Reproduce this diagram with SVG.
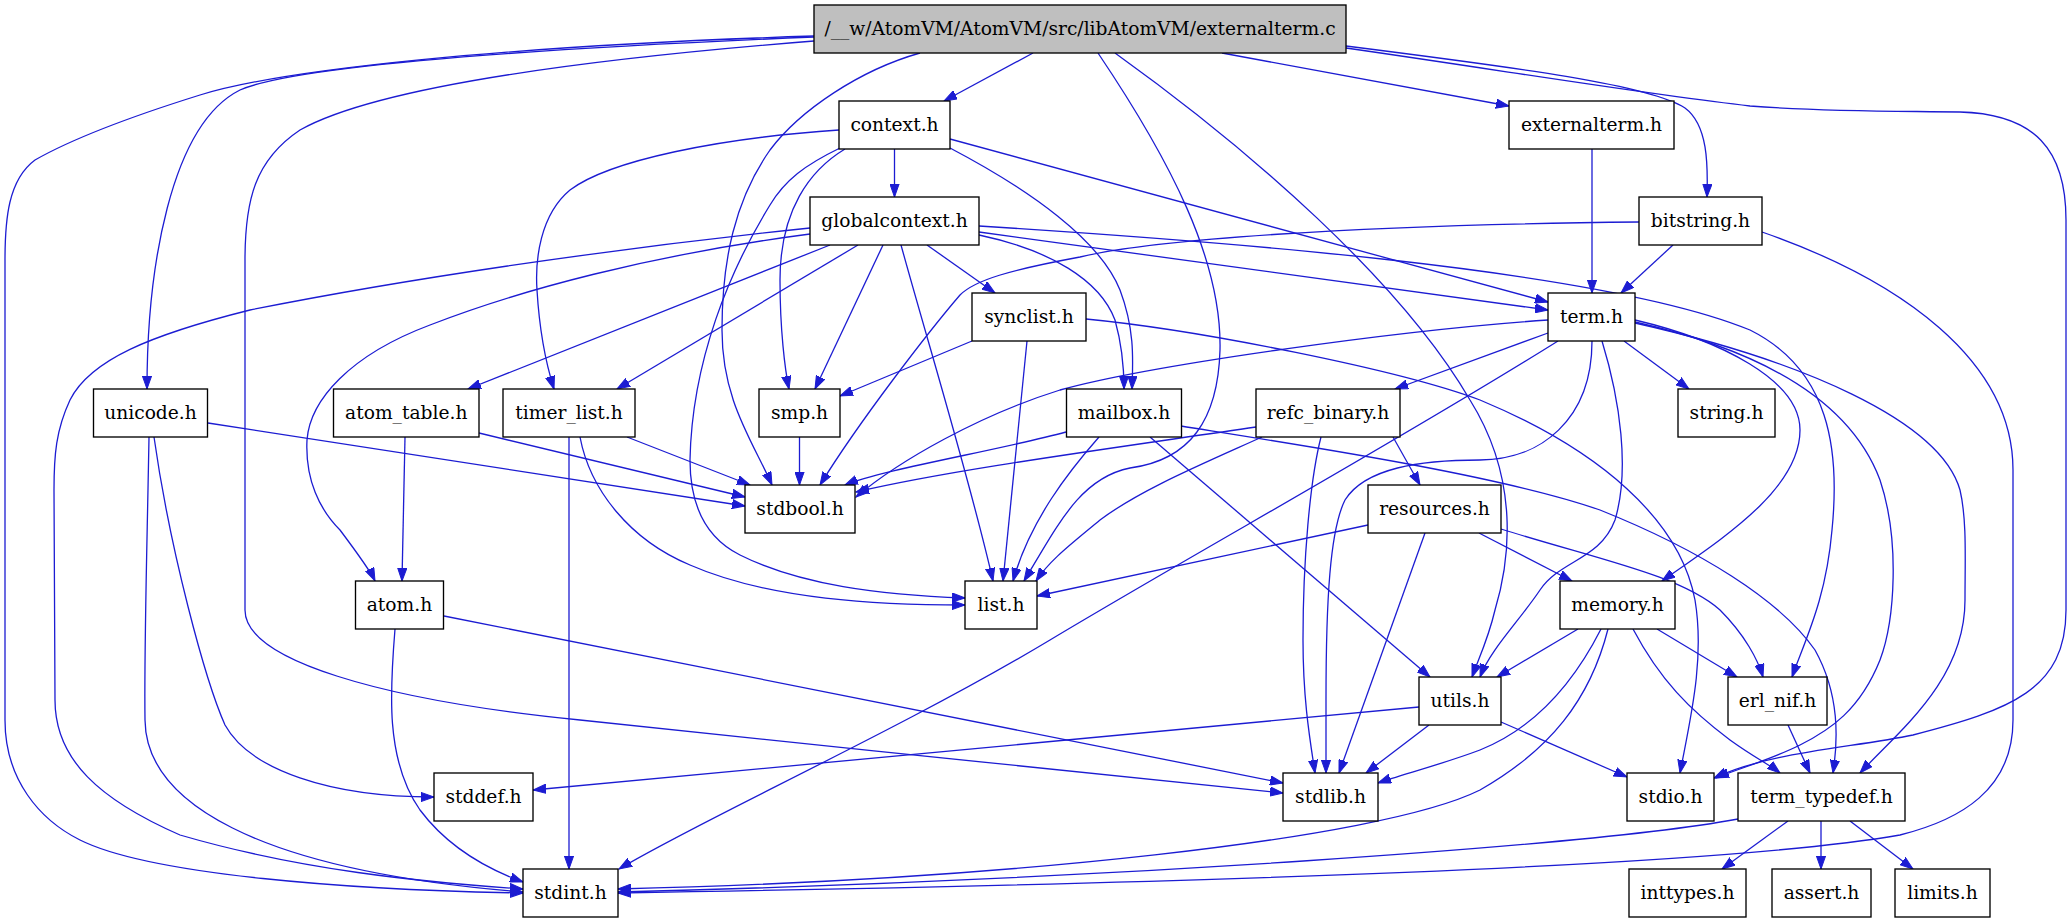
<svg xmlns="http://www.w3.org/2000/svg" width="2072" height="923" viewBox="0 0 2072 923">
<style>
.e{fill:none;stroke:#1c1cd2;stroke-width:1.3;marker-end:url(#ah)}
.n rect{fill:#fff;stroke:#000;stroke-width:1.35}
.r rect{fill:#bfbfbf}
text{font-family:"DejaVu Serif","Liberation Serif",serif;font-size:18.67px;text-anchor:middle;fill:#000}
</style>
<defs>
<marker id="ah" markerWidth="14" markerHeight="10" refX="13" refY="5" orient="auto" markerUnits="userSpaceOnUse">
<path d="M0,0.4 L13,5 L0,9.6 z" fill="#1c1cd2" stroke="#1c1cd2" stroke-width="1"/>
</marker>
</defs>
<rect x="0" y="0" width="2072" height="923" fill="#fff"/>
<g id="edges">
<path class="e" d="M1033,53 L944,101"/>
<path class="e" d="M1222,53 L1509,106"/>
<path class="e" d="M1346,46 C1520,68 1650,85 1685,108 C1708,125 1708,165 1707,197"/>
<path class="e" d="M1346,48 C1500,70 1650,95 1750,106 C1830,112 1900,111 1960,112 C2035,114 2066,150 2066,220 L2066,610 C2066,690 2010,710 1913,735 C1850,748 1770,752 1714,778"/>
<path class="e" d="M1115,53 C1250,150 1400,280 1470,400 C1520,480 1510,560 1495,610 C1488,640 1478,660 1472,677"/>
<path class="e" d="M1098,53 C1170,160 1222,260 1220,350 C1218,420 1190,460 1130,468 C1080,478 1058,525 1024,581"/>
<path class="e" d="M920,53 C860,70 800,110 770,150 C735,200 722,260 722,330 C722,400 752,440 772,485"/>
<path class="e" d="M814,37 C500,50 290,68 240,90 C170,125 147,270 147,389"/>
<path class="e" d="M814,36 C500,46 280,70 200,95 C120,120 70,140 35,160 C8,180 5,220 5,260 L5,720 C5,780 40,820 80,840 C150,875 350,890 523,893"/>
<path class="e" d="M814,41 C600,58 380,85 300,130 C255,160 245,200 245,260 L245,610 C245,660 380,700 580,720 C800,745 1100,772 1283,793"/>
<path class="e" d="M894.5,149 L894.5,197"/>
<path class="e" d="M839,130 C720,138 610,160 570,190 C540,215 535,260 537,290 C540,340 548,370 554,389"/>
<path class="e" d="M840,148 C805,165 785,180 770,205 C730,270 692,360 690,460 C690,510 710,540 740,555 C800,585 880,595 965,598"/>
<path class="e" d="M845,149 C810,170 780,210 780,280 C780,330 785,370 789,389"/>
<path class="e" d="M950,139 L1548,302"/>
<path class="e" d="M950,148 C1030,190 1100,240 1120,290 C1135,330 1133,360 1132,389"/>
<path class="e" d="M810,228 C600,250 400,280 250,310 C150,335 90,360 70,400 C56,430 54,455 54,490 L55,700 C55,760 100,800 180,835 C300,870 420,882 523,889"/>
<path class="e" d="M810,234 C650,255 520,290 430,325 C350,355 310,400 307,440 C305,480 320,510 340,530 C355,550 370,570 375,581"/>
<path class="e" d="M830,245 L468,389"/>
<path class="e" d="M858,245 L617,389"/>
<path class="e" d="M883,245 L815,389"/>
<path class="e" d="M901,245 C930,350 970,480 993,581"/>
<path class="e" d="M927,245 L995,293"/>
<path class="e" d="M979,232 L1548,310"/>
<path class="e" d="M979,235 C1050,250 1100,280 1115,320 C1122,345 1124,365 1124,389"/>
<path class="e" d="M979,226 C1200,240 1600,268 1750,330 C1830,370 1840,450 1832,530 C1826,600 1805,640 1792,677"/>
<path class="e" d="M1592,149 L1592,293"/>
<path class="e" d="M1673,245 L1621,293"/>
<path class="e" d="M1639,222 C1350,225 1150,240 1080,257 C1010,270 975,280 960,295 C930,330 860,420 820,485"/>
<path class="e" d="M1762,232 C1900,280 2013,360 2013,470 L2013,720 C2013,790 1960,820 1900,835 C1700,870 1100,885 618,893"/>
<path class="e" d="M972,341 L840,396"/>
<path class="e" d="M1027,341 L1003,581"/>
<path class="e" d="M1086,319 C1200,330 1400,370 1480,400 C1600,450 1680,520 1695,600 C1705,660 1690,720 1680,773"/>
<path class="e" d="M1548,320 C1400,330 1150,365 1060,390 C980,415 900,460 856,497"/>
<path class="e" d="M1548,333 L1395,389"/>
<path class="e" d="M1558,341 C1400,440 1200,550 1050,640 C900,730 700,820 619,869"/>
<path class="e" d="M1592,341 C1592,420 1540,460 1480,460 C1420,460 1365,468 1345,500 C1330,530 1326,600 1326,700 L1326,773"/>
<path class="e" d="M1602,341 C1620,400 1630,470 1615,520 C1600,560 1560,560 1540,590 C1520,620 1490,650 1480,677"/>
<path class="e" d="M1624,341 L1689,389"/>
<path class="e" d="M1635,320 C1720,340 1800,380 1800,430 C1800,490 1720,540 1662,581"/>
<path class="e" d="M1635,322 C1760,350 1850,400 1880,480 C1900,540 1895,620 1880,660 C1860,710 1830,730 1800,745 C1770,760 1740,768 1716,778"/>
<path class="e" d="M1635,323 C1800,360 1940,420 1960,490 C1967,520 1965,560 1965,600 C1965,680 1900,730 1860,773"/>
<path class="e" d="M208,423 L745,506"/>
<path class="e" d="M154,437 C170,550 205,680 225,725 C250,770 330,797 434,797"/>
<path class="e" d="M149,437 C147,550 144,650 145,720 C146,800 250,870 523,892"/>
<path class="e" d="M479,433 L745,497"/>
<path class="e" d="M405,437 L402,581"/>
<path class="e" d="M627,437 L750,485"/>
<path class="e" d="M569,437 L569,869"/>
<path class="e" d="M580,437 C590,490 630,540 690,565 C770,600 880,605 965,605"/>
<path class="e" d="M799.5,437 L799.5,485"/>
<path class="e" d="M1066,432 C1000,450 880,470 845,485"/>
<path class="e" d="M1099,437 C1070,470 1030,520 1013,581"/>
<path class="e" d="M1150,437 L1430,677"/>
<path class="e" d="M1181,426 C1300,445 1500,475 1600,510 C1700,550 1780,600 1815,650 C1840,695 1838,740 1833,773"/>
<path class="e" d="M1256,427 C1100,450 950,470 856,492"/>
<path class="e" d="M1262,437 C1200,465 1140,490 1100,520 C1070,545 1050,560 1036,581"/>
<path class="e" d="M1321,437 C1310,480 1303,560 1303,640 C1303,700 1310,740 1315,773"/>
<path class="e" d="M1393,437 L1420,485"/>
<path class="e" d="M1368,525 L1037,596"/>
<path class="e" d="M1425,533 L1339,773"/>
<path class="e" d="M1479,533 L1572,581"/>
<path class="e" d="M1501,529 C1600,560 1680,575 1720,610 C1745,635 1758,660 1763,677"/>
<path class="e" d="M395,629 C390,690 385,760 420,810 C450,850 490,870 523,882"/>
<path class="e" d="M444,616 L1283,783"/>
<path class="e" d="M1578,629 L1497,677"/>
<path class="e" d="M1601,629 C1570,690 1530,730 1480,750 C1440,765 1400,775 1378,783"/>
<path class="e" d="M1608,629 C1590,700 1550,750 1480,790 C1380,840 1000,880 618,889"/>
<path class="e" d="M1633,629 C1660,680 1690,710 1730,740 C1755,758 1770,765 1780,773"/>
<path class="e" d="M1657,629 L1737,677"/>
<path class="e" d="M1419,707 L533,790"/>
<path class="e" d="M1429,725 L1366,773"/>
<path class="e" d="M1501,722 L1627,777"/>
<path class="e" d="M1788,725 L1810,773"/>
<path class="e" d="M1738,819 C1600,845 1100,880 618,892"/>
<path class="e" d="M1788,821 L1722,869"/>
<path class="e" d="M1821,821 L1821,869"/>
<path class="e" d="M1850,821 L1913,869"/>
</g>
<g id="root" class="n r"><rect x="814" y="5" width="532" height="48"/><text x="1080" y="34.5">/__w/AtomVM/AtomVM/src/libAtomVM/externalterm.c</text></g>
<g id="context" class="n"><rect x="839" y="101" width="111" height="48"/><text x="894.5" y="130.5">context.h</text></g>
<g id="externalterm" class="n"><rect x="1509" y="101" width="165" height="48"/><text x="1591.5" y="130.5">externalterm.h</text></g>
<g id="globalcontext" class="n"><rect x="810" y="197" width="169" height="48"/><text x="894.5" y="226.5">globalcontext.h</text></g>
<g id="bitstring" class="n"><rect x="1639" y="197" width="123" height="48"/><text x="1700.5" y="226.5">bitstring.h</text></g>
<g id="synclist" class="n"><rect x="972" y="293" width="114" height="48"/><text x="1029" y="322.5">synclist.h</text></g>
<g id="term" class="n"><rect x="1548" y="293" width="87" height="48"/><text x="1591.5" y="322.5">term.h</text></g>
<g id="unicode" class="n"><rect x="93.5" y="389" width="114" height="48"/><text x="150.5" y="418.5">unicode.h</text></g>
<g id="atom_table" class="n"><rect x="333.5" y="389" width="145.5" height="48"/><text x="406.25" y="418.5">atom_table.h</text></g>
<g id="timer_list" class="n"><rect x="503" y="389" width="132" height="48"/><text x="569" y="418.5">timer_list.h</text></g>
<g id="smp" class="n"><rect x="759" y="389" width="81" height="48"/><text x="799.5" y="418.5">smp.h</text></g>
<g id="mailbox" class="n"><rect x="1066.5" y="389" width="115" height="48"/><text x="1124" y="418.5">mailbox.h</text></g>
<g id="refc_binary" class="n"><rect x="1256" y="389" width="144" height="48"/><text x="1328" y="418.5">refc_binary.h</text></g>
<g id="string" class="n"><rect x="1678" y="389" width="97" height="48"/><text x="1726.5" y="418.5">string.h</text></g>
<g id="stdbool" class="n"><rect x="745" y="485" width="110" height="48"/><text x="800" y="514.5">stdbool.h</text></g>
<g id="resources" class="n"><rect x="1368" y="485" width="133" height="48"/><text x="1434.5" y="514.5">resources.h</text></g>
<g id="atom" class="n"><rect x="355.5" y="581" width="88" height="48"/><text x="399.5" y="610.5">atom.h</text></g>
<g id="list" class="n"><rect x="965" y="581" width="72" height="48"/><text x="1001" y="610.5">list.h</text></g>
<g id="memory" class="n"><rect x="1560" y="581" width="115" height="48"/><text x="1617.5" y="610.5">memory.h</text></g>
<g id="utils" class="n"><rect x="1419" y="677" width="82" height="48"/><text x="1460" y="706.5">utils.h</text></g>
<g id="erl_nif" class="n"><rect x="1728" y="677" width="99" height="48"/><text x="1777.5" y="706.5">erl_nif.h</text></g>
<g id="stddef" class="n"><rect x="434" y="773" width="99" height="48"/><text x="483.5" y="802.5">stddef.h</text></g>
<g id="stdlib" class="n"><rect x="1283" y="773" width="95" height="48"/><text x="1330.5" y="802.5">stdlib.h</text></g>
<g id="stdio" class="n"><rect x="1627" y="773" width="87" height="48"/><text x="1670.5" y="802.5">stdio.h</text></g>
<g id="term_typedef" class="n"><rect x="1738" y="773" width="167" height="48"/><text x="1821.5" y="802.5">term_typedef.h</text></g>
<g id="stdint" class="n"><rect x="523" y="869" width="95" height="48"/><text x="570.5" y="898.5">stdint.h</text></g>
<g id="inttypes" class="n"><rect x="1629" y="869" width="117" height="48"/><text x="1687.5" y="898.5">inttypes.h</text></g>
<g id="assert" class="n"><rect x="1772" y="869" width="99" height="48"/><text x="1821.5" y="898.5">assert.h</text></g>
<g id="limits" class="n"><rect x="1895" y="869" width="95" height="48"/><text x="1942.5" y="898.5">limits.h</text></g>
</svg>
